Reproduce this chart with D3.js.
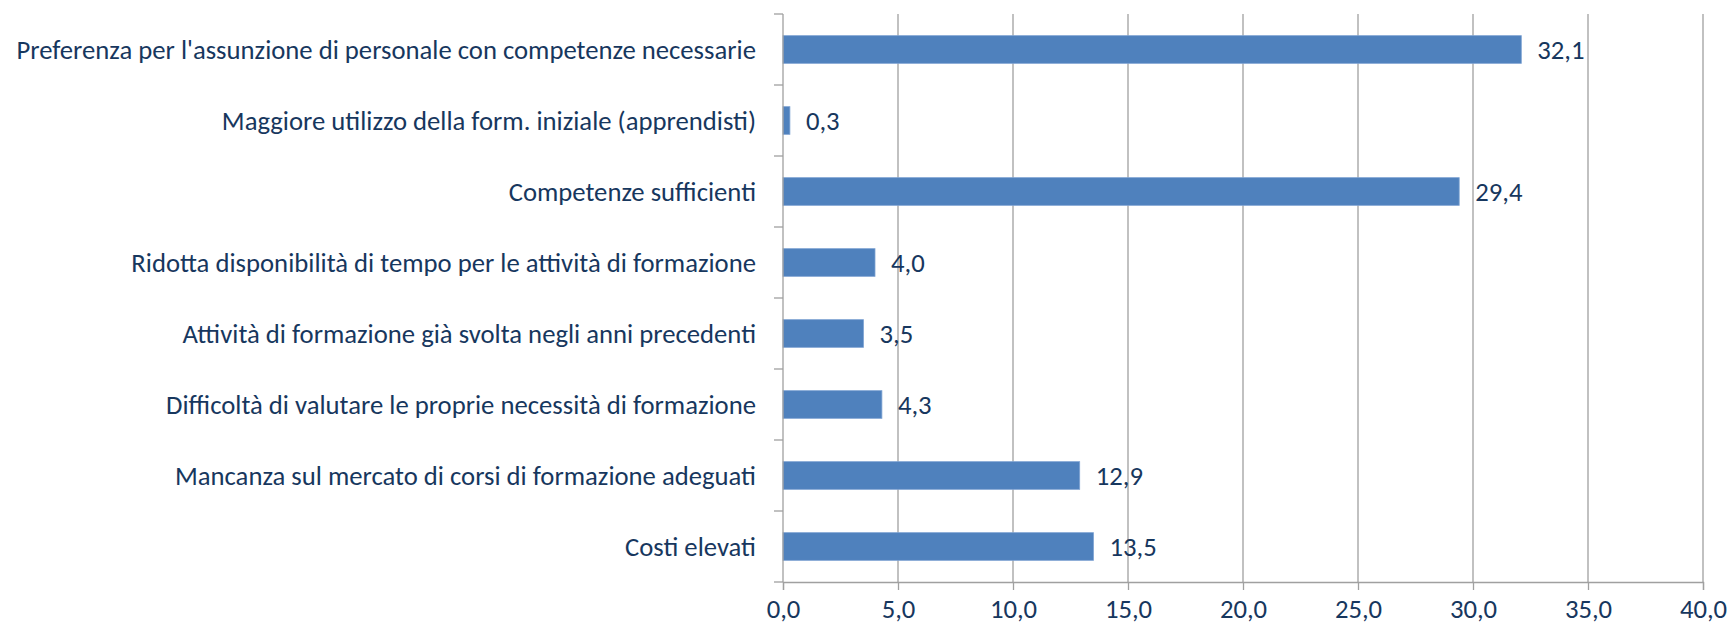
<!DOCTYPE html>
<html>
<head>
<meta charset="utf-8">
<script src="https://cdn.jsdelivr.net/npm/d3@7"></script>
<style>
  body { margin: 0; background: #fff; }
  text { font-family: Calibri, Carlito, "Open Sans", sans-serif; fill: #17375e; }
</style>
</head>
<body>
<div id="chart"></div>
<script>
const categories = [
  "Preferenza per l'assunzione di personale con competenze necessarie",
  "Maggiore utilizzo della form. iniziale (apprendisti)",
  "Competenze sufficienti",
  "Ridotta disponibilità di tempo per le attività di formazione",
  "Attività di formazione già svolta negli anni precedenti",
  "Difficoltà di valutare le proprie necessità di formazione",
  "Mancanza sul mercato di corsi di formazione adeguati",
  "Costi elevati"
];
const values = [32.1, 0.3, 29.4, 4.0, 3.5, 4.3, 12.9, 13.5];
const xTicks = [0, 5, 10, 15, 20, 25, 30, 35, 40];

const width = 1731, height = 629;
const margin = { top: 14, right: 28, bottom: 47, left: 783 };
const fontFam = 'Calibri, Carlito, "Open Sans", sans-serif';
const fontSize = "26.7px";
const fmt = (v) => d3.format(".1f")(v).replace(".", ",");

const svg = d3.select("#chart")
  .append("svg")
  .attr("width", width)
  .attr("height", height);

const x = d3.scaleLinear()
  .domain([0, 40])
  .range([margin.left, width - margin.right]);

const y = d3.scaleBand()
  .domain(categories)
  .range([margin.top, height - margin.bottom])
  .paddingInner(0.61)
  .paddingOuter(0.305);

const step = y.step();

// gridlines
svg.append("g")
  .selectAll("line")
  .data(xTicks.slice(1))
  .enter()
  .append("line")
  .attr("x1", (d) => x(d))
  .attr("x2", (d) => x(d))
  .attr("y1", margin.top)
  .attr("y2", height - margin.bottom)
  .attr("stroke", "#a0a0a0")
  .attr("stroke-width", 1.3);

// bars
svg.append("g")
  .selectAll("rect")
  .data(values)
  .enter()
  .append("rect")
  .attr("x", x(0))
  .attr("y", (d, i) => y(categories[i]))
  .attr("width", (d) => x(d) - x(0))
  .attr("height", y.bandwidth())
  .attr("fill", "#4f81bd")
  .attr("stroke", "#7ea3d3")
  .attr("stroke-width", 0.8);

// value labels
svg.append("g")
  .selectAll("text")
  .data(values)
  .enter()
  .append("text")
  .attr("x", (d) => x(d) + 16)
  .attr("y", (d, i) => y(categories[i]) + y.bandwidth() / 2)
  .attr("dy", "0.35em")
  .style("font-size", fontSize)
  .text((d) => fmt(d));

// x axis
const xAxis = svg.append("g")
  .attr("transform", `translate(0, ${height - margin.bottom})`)
  .call(d3.axisBottom(x).tickValues(xTicks).tickSize(8).tickPadding(9).tickFormat(fmt));
xAxis.select(".domain").attr("stroke", "#a0a0a0").attr("stroke-width", 1.3);
xAxis.selectAll(".tick line").attr("stroke", "#a0a0a0").attr("stroke-width", 1.3);
xAxis.selectAll(".tick text")
  .style("font-size", fontSize)
  .style("font-family", fontFam)
  .attr("fill", "#17375e");

// y axis: ticks on band boundaries
const yAxisG = svg.append("g");
yAxisG.append("line")
  .attr("x1", x(0)).attr("x2", x(0))
  .attr("y1", margin.top).attr("y2", height - margin.bottom)
  .attr("stroke", "#a0a0a0").attr("stroke-width", 1.3);
yAxisG.selectAll("line.tk")
  .data(categories.concat([null]))
  .enter()
  .append("line")
  .attr("class", "tk")
  .attr("x1", x(0) - 9).attr("x2", x(0))
  .attr("y1", (d, i) => margin.top + i * step)
  .attr("y2", (d, i) => margin.top + i * step)
  .attr("stroke", "#a0a0a0").attr("stroke-width", 1.3);

yAxisG.selectAll("text")
  .data(categories)
  .enter()
  .append("text")
  .attr("x", x(0) - 27)
  .attr("y", (d) => y(d) + y.bandwidth() / 2)
  .attr("dy", "0.35em")
  .attr("text-anchor", "end")
  .style("font-size", fontSize)
  .text((d) => d);
</script>
</body>
</html>
